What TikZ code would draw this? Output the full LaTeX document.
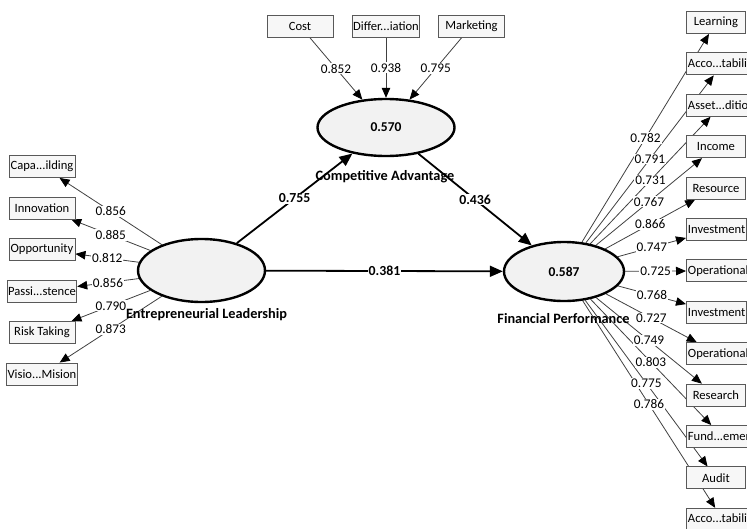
\documentclass[tikz,border=0pt]{standalone}
\usepackage{fontspec}
\setmainfont{Carlito}
\usetikzlibrary{arrows.meta,shapes.geometric}
\pgfdeclarelayer{edgelayer}
\pgfdeclarelayer{labellayer}
\pgfsetlayers{edgelayer,labellayer,main}
\begin{document}
\begin{tikzpicture}[x=1pt,y=-1pt,
  ind/.style={draw=black!65, fill=black!3, line width=0.9pt, minimum width=66pt, minimum height=22pt, inner xsep=0.8pt, inner ysep=0pt, font=\fontsize{12.6}{12.6}\selectfont},
  indr/.style={ind, minimum width=59pt, anchor=west, inner xsep=1.5pt},
  lv/.style={ellipse, draw=black, line width=2.4pt, fill=black!5, inner sep=0pt, font=\bfseries\fontsize{13.5}{13.5}\selectfont},
  lvname/.style={font=\bfseries\fontsize{14.3}{14.3}\selectfont, inner sep=0pt},
  ldg/.style={draw=black!75, line width=0.8pt, -{Triangle[length=10pt,width=8.5pt,color=black]}},
  struct/.style={draw=black, line width=1.8pt, -{Triangle[length=13pt,width=11pt]}},
  lab/.style={fill=white, inner sep=1pt, font=\fontsize{13.3}{13.3}\selectfont},
  plab/.style={lab, font=\bfseries\fontsize{13.8}{13.8}\selectfont}]
\useasboundingbox (0,0) rectangle (747,528);
\clip (0,0) rectangle (747,528);

% latent variables
\node[lv, minimum width=127pt, minimum height=63pt] (EL) at (201.5,270.5) {};
\node[lv, minimum width=137pt, minimum height=57pt] (CA) at (386,127.5) {0.570};
\node[lv, minimum width=120pt, minimum height=59pt] (FP) at (564,271.5) {0.587};
\node[lvname] (nEL) at (206.5,315) {Entrepreneurial Leadership};
\node[lvname] (nCA) at (385,177) {Competitive Advantage};
\node[lvname] (nFP) at (563.5,319) {Financial Performance};

% left indicators
\node[ind] (l1) at (42,166.5) {Capa...ilding};
\node[ind] (l2) at (42,208) {Innovation};
\node[ind] (l3) at (42,249.5) {Opportunity};
\node[ind] (l4) at (42,291) {Passi...stence};
\node[ind] (l5) at (42,332.5) {Risk Taking};
\node[ind] (l6) at (42,374) {Visio...Mision};

% top indicators
\node[ind] (t1) at (300,26) {Cost};
\node[ind] (t2) at (386,26) {Differ...iation};
\node[ind] (t3) at (471.5,26) {Marketing};

% right indicators
\node[indr] (r1) at (686,22.5) {Learning};
\node[indr] (r2) at (686,63.9) {Acco...tability};
\node[indr] (r3) at (686,105.3) {Asset...dition};
\node[indr] (r4) at (686,146.7) {Income};
\node[indr] (r5) at (686,188.1) {Resource};
\node[indr] (r6) at (686,229.5) {Investment};
\node[indr] (r7) at (686,270.9) {Operational};
\node[indr] (r8) at (686,312.3) {Investment};
\node[indr] (r9) at (686,353.7) {Operational};
\node[indr] (r10) at (686,395.1) {Research};
\node[indr] (r11) at (686,436.5) {Fund...ement};
\node[indr] (r12) at (686,477.9) {Audit};
\node[indr] (r13) at (686,519.3) {Acco...tability};

\begin{pgfonlayer}{edgelayer}
  \foreach \b in {l1,l2,l3,l4,l5,l6} \draw[ldg] (EL) -- (\b);
  \foreach \a in {t1,t2,t3} \draw[ldg] (\a) -- (CA);
  \foreach \b in {r1,r2,r3,r4,r5,r6,r7,r8,r9,r10,r11,r12,r13} \draw[ldg] (FP) -- (\b);
  \draw[struct] (EL) -- (CA);
  \draw[struct] (EL) -- (FP);
  \draw[struct] (CA) -- (FP);
\end{pgfonlayer}

\begin{pgfonlayer}{labellayer}
  \foreach \b/\v in {l1/0.856,l2/0.885,l3/0.812,l4/0.856,l5/0.790,l6/0.873}
    \path (EL) -- node[lab]{\v} (\b);
  \foreach \a/\v in {t1/0.852,t2/0.938,t3/0.795}
    \path (\a) -- node[lab]{\v} (CA);
  \foreach \b/\v in {r1/0.782,r2/0.791,r3/0.731,r4/0.767,r5/0.866,r6/0.747,r7/0.725,r8/0.768,r9/0.727,r10/0.749,r11/0.803,r12/0.775,r13/0.786}
    \path (FP) -- node[lab]{\v} (\b);
  \path (EL) -- node[plab]{0.755} (CA);
  \path (EL) -- node[plab]{0.381} (FP);
  \path (CA) -- node[plab]{0.436} (FP);
\end{pgfonlayer}
\end{tikzpicture}
\end{document}
